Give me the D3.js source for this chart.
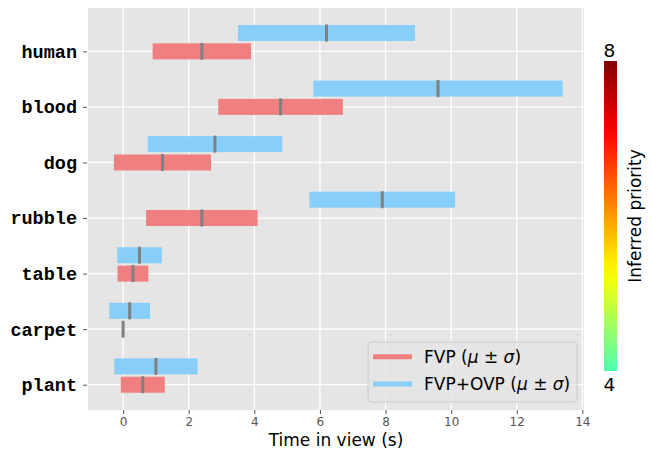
<!DOCTYPE html>
<html>
<head>
<meta charset="utf-8">
<script src="https://cdn.jsdelivr.net/npm/d3@7"></script>
<style>
  body { margin: 0; background: #fff; }
  text { font-family: "DejaVu Sans", sans-serif; }
</style>
</head>
<body>
<svg id="chart" width="652" height="450"></svg>
<script>
// data (bottom to top)
const categories = ["plant", "carpet", "table", "rubble", "dog", "blood", "human"];
const fvpMean = [0.6, 0.0, 0.3, 2.4, 1.2, 4.8, 2.4];
const fvpStd  = [0.67, 0.0, 0.47, 1.7, 1.48, 1.9, 1.5];
const ovpMean = [1.0, 0.2, 0.5, 7.9, 2.8, 9.6, 6.2];
const ovpStd  = [1.27, 0.62, 0.68, 2.22, 2.05, 3.8, 2.7];
const xTicks = [0, 2, 4, 6, 8, 10, 12, 14];
const priorityRange = [4, 8];
const legendLabels = ["FVP", "FVP+OVP"];

const RED = "#f08080", BLUE = "#87cefa";

const svg = d3.select("#chart");
const plot = { left: 88, right: 584, top: 8, bottom: 410 };

const x = d3.scaleLinear().domain([-1.07, 14.05]).range([plot.left, plot.right]);
const y = d3.scaleLinear().domain([-0.455, 6.78]).range([plot.bottom, plot.top]);

// background + grid
svg.append("rect")
  .attr("x", plot.left).attr("y", plot.top)
  .attr("width", plot.right - plot.left).attr("height", plot.bottom - plot.top)
  .attr("fill", "#e5e5e5");

svg.append("g").selectAll("line.vg")
  .data(xTicks)
  .enter().append("line")
  .attr("x1", d => x(d)).attr("x2", d => x(d))
  .attr("y1", plot.top).attr("y2", plot.bottom)
  .attr("stroke", "#fff").attr("stroke-width", 1.3);

svg.append("g").selectAll("line.hg")
  .data(categories)
  .enter().append("line")
  .attr("x1", plot.left).attr("x2", plot.right)
  .attr("y1", (d, i) => y(i)).attr("y2", (d, i) => y(i))
  .attr("stroke", "#fff").attr("stroke-width", 1.3);

// axes
const xAxis = d3.axisBottom(x).tickValues(xTicks).tickSize(4).tickPadding(3);
const gx = svg.append("g")
  .attr("transform", `translate(0,${plot.bottom})`)
  .call(xAxis);
gx.select(".domain").remove();
gx.selectAll("line").attr("stroke", "#555");
gx.selectAll("text")
  .attr("fill", "#555")
  .style("font-size", "12px")
  .style("font-family", "DejaVu Sans, sans-serif");

const yAxis = d3.axisLeft(y).tickValues(d3.range(categories.length))
  .tickFormat(i => categories[i]).tickSize(4).tickPadding(6);
const gy = svg.append("g")
  .attr("transform", `translate(${plot.left - 1},0)`)
  .call(yAxis);
gy.select(".domain").remove();
gy.selectAll("line").attr("stroke", "#555");
gy.selectAll("text")
  .attr("fill", "#000")
  .style("font-size", "18.5px")
  .style("font-weight", "bold")
  .style("font-family", "'Liberation Mono', 'Courier New', monospace");

// bars
const barH = 16;
const offset = 0.33;

function drawSeries(means, stds, shift, color) {
  const g = svg.append("g");
  g.selectAll("rect")
    .data(means)
    .enter().append("rect")
    .attr("x", (d, i) => x(d - stds[i]))
    .attr("width", (d, i) => x(d + stds[i]) - x(d - stds[i]))
    .attr("y", (d, i) => y(i + shift) - barH / 2)
    .attr("height", barH)
    .attr("fill", color);
  return g;
}
drawSeries(ovpMean, ovpStd, offset, BLUE);
drawSeries(fvpMean, fvpStd, 0, RED);

function drawMeans(means, shift) {
  svg.append("g").selectAll("rect")
    .data(means)
    .enter().append("rect")
    .attr("x", d => x(d) - 1.5)
    .attr("width", 3)
    .attr("y", (d, i) => y(i + shift) - barH / 2 - 0.5)
    .attr("height", barH + 1)
    .attr("fill", "#808080");
}
drawMeans(ovpMean, offset);
drawMeans(fvpMean, 0);

// x label
svg.append("text")
  .attr("x", (plot.left + plot.right) / 2)
  .attr("y", 446)
  .attr("text-anchor", "middle")
  .style("font-size", "17px")
  .text("Time in view (s)");

// legend
const lg = svg.append("g");
lg.append("rect")
  .attr("x", 368).attr("y", 342).attr("width", 209).attr("height", 60)
  .attr("rx", 3)
  .attr("fill", "#e5e5e5").attr("fill-opacity", 0.8)
  .attr("stroke", "#cccccc");
[RED, BLUE].forEach((c, i) => {
  const yy = 356.7 + i * 27.3;
  lg.append("line")
    .attr("x1", 373).attr("x2", 412)
    .attr("y1", yy).attr("y2", yy)
    .attr("stroke", c).attr("stroke-width", 5);
  const t = lg.append("text")
    .attr("x", 424).attr("y", yy + 6)
    .style("font-size", "17px");
  t.append("tspan").text(legendLabels[i] + " (");
  t.append("tspan").style("font-style", "italic").text("μ");
  t.append("tspan").text(" ± ");
  t.append("tspan").style("font-style", "italic").text("σ");
  t.append("tspan").text(")");
});

// colorbar (jet, upper part)
const jet = t => {
  const c = v => Math.max(0, Math.min(1, v));
  return d3.rgb(255 * c(1.5 - Math.abs(4 * t - 3)),
                255 * c(1.5 - Math.abs(4 * t - 2)),
                255 * c(1.5 - Math.abs(4 * t - 1))).formatHex();
};
const defs = svg.append("defs");
const grad = defs.append("linearGradient")
  .attr("id", "cbar").attr("x1", 0).attr("x2", 0).attr("y1", 1).attr("y2", 0);
d3.range(0, 1.0001, 0.05).forEach(s => {
  grad.append("stop").attr("offset", s).attr("stop-color", jet(0.45 + 0.55 * s));
});

const cb = { x: 604, w: 13, top: 61, bottom: 371 };
const cScale = d3.scaleLinear().domain(priorityRange).range([cb.bottom, cb.top]);
svg.append("rect")
  .attr("x", cb.x).attr("y", cScale(priorityRange[1]))
  .attr("width", cb.w).attr("height", cScale(priorityRange[0]) - cScale(priorityRange[1]))
  .attr("fill", "url(#cbar)");
svg.append("text")
  .attr("x", cb.x + cb.w / 2 - 1).attr("y", cScale(priorityRange[1]) - 4)
  .attr("text-anchor", "middle").style("font-size", "18.5px")
  .text(priorityRange[1]);
svg.append("text")
  .attr("x", cb.x + cb.w / 2 - 1).attr("y", cScale(priorityRange[0]) + 20)
  .attr("text-anchor", "middle").style("font-size", "18.5px")
  .text(priorityRange[0]);
svg.append("text")
  .attr("transform", `translate(641,${(cb.top + cb.bottom) / 2}) rotate(-90)`)
  .attr("text-anchor", "middle")
  .style("font-size", "17px")
  .text("Inferred priority");
</script>
</body>
</html>
